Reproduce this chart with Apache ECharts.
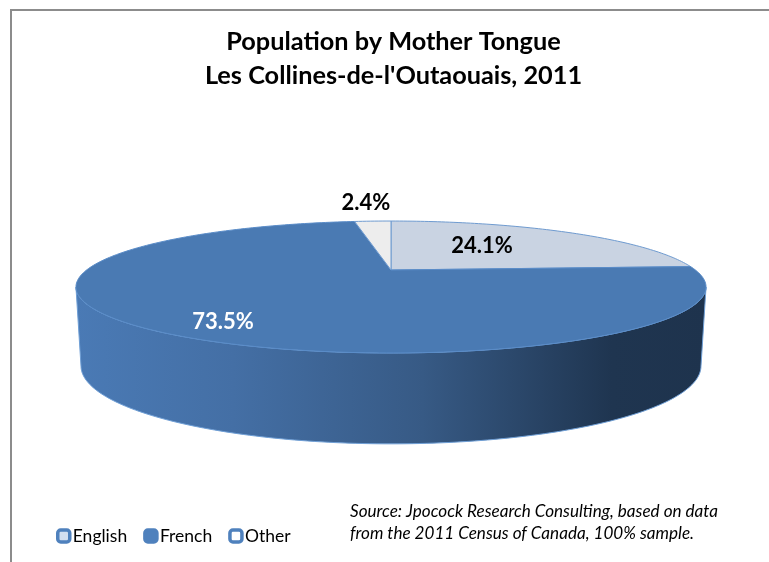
<!DOCTYPE html>
<html>
<head>
<meta charset="utf-8">
<style>
html, body { margin: 0; padding: 0; background: #fff; }
#main { width: 769px; height: 562px; }
</style>
<script src="https://cdn.jsdelivr.net/npm/echarts@6/dist/echarts.min.js"></script>
</head>
<body>
<div id="main"></div>
<script>
// values
var categories = ['English', 'French', 'Other'];
var shares = [24.1, 73.5, 2.4];

var topColors = ['#c9d3e2', '#4a7ab3', '#ededed'];
var labelColors = ['#000', '#fff', '#000'];
var labelAt = [[482, 246], [223, 322], [366, 203]];
var legendFills = ['#d3dff0', '#4f81bd', '#ffffff'];

// flattened disc, drawn in perspective
var cx = 391, apexY = 270;
var p = 0.2576, sx = 304.4, sy = 61.6;
var backScaleX = 0.984, backScaleY = 1.18, rimY = 287, footY = 366;

function project(deg) {
    var t = deg * Math.PI / 180;
    var w = 1 + p * Math.cos(t);
    return [cx + sx * Math.sin(t) / w, apexY - sy * Math.cos(t) / w];
}
function foot(deg) {
    var q = project(deg);
    return [cx + (q[0] - cx) * backScaleX, footY + (q[1] - rimY) * backScaleY];
}
function arc(fn, a, b) {
    var pts = [];
    var n = Math.max(2, Math.ceil(Math.abs(b - a)));
    for (var i = 0; i <= n; i++) {
        pts.push(fn(a + (b - a) * i / n));
    }
    return pts;
}

var myChart = echarts.init(document.getElementById('main'));

var wallGradient = new echarts.graphic.LinearGradient(0, 0, 1, 0, [
    { offset: 0, color: '#4a7ab5' },
    { offset: 0.25, color: '#446fa5' },
    { offset: 0.55, color: '#375a85' },
    { offset: 0.85, color: '#1f3550' },
    { offset: 1, color: '#1e334d' }
]);
var wallFrom = 105, wallTo = 255;

function sliceSeries(idx) {
    var before = 0;
    for (var i = 0; i < idx; i++) {
        before += shares[i];
    }
    var start = before * 3.6, end = (before + shares[idx]) * 3.6;
    return {
        name: categories[idx],
        type: 'custom',
        coordinateSystem: 'none',
        data: [shares[idx]],
        itemStyle: { color: legendFills[idx] },
        renderItem: function (params, api) {
            var children = [];
            var a = Math.max(start, wallFrom), b = Math.min(end, wallTo);
            if (b > a) {
                var wall = arc(project, a, b).concat(arc(foot, b, a));
                children.push({
                    type: 'polygon',
                    shape: { points: wall },
                    style: { fill: wallGradient, stroke: '#6f9fd6', lineWidth: 1 }
                });
            }
            var top = [[cx, apexY]].concat(arc(project, start, end));
            children.push({
                type: 'polygon',
                shape: { points: top },
                style: { fill: topColors[idx], stroke: idx == 1 ? '#5a8cc8' : '#6f9bd0', lineWidth: 1 }
            });
            children.push({
                type: 'text',
                style: {
                    text: api.value(0).toFixed(1) + '%',
                    x: labelAt[idx][0],
                    y: labelAt[idx][1],
                    align: 'center',
                    verticalAlign: 'middle',
                    fill: labelColors[idx],
                    font: 'bold 22px Lato'
                }
            });
            return { type: 'group', children: children };
        }
    };
}

var option = {
    animation: false,
    backgroundColor: '#fff',
    title: [{
        text: "Population by Mother Tongue\nLes Collines-de-l'Outaouais, 2011",
        left: 388.5,
        top: 20,
        textAlign: 'center',
        textStyle: { fontFamily: 'Lato', fontWeight: 'bold', fontSize: 25.3, lineHeight: 34, color: '#000' }
    }, {
        text: 'Source: Jpocock Research Consulting, based on data\nfrom the 2011 Census of Canada, 100% sample.',
        left: 345,
        top: 495,
        textStyle: { fontFamily: 'Lato', fontStyle: 'italic', fontWeight: 'normal', fontSize: 17.1, lineHeight: 22, color: '#000' }
    }],
    legend: {
        left: 56,
        top: 527,
        itemWidth: 12,
        itemHeight: 12,
        itemGap: 16,
        padding: 0,
        icon: 'roundRect',
        textStyle: { fontFamily: 'Lato', fontSize: 17.5, color: '#000', padding: [0, 0, 0, -2] },
        selectedMode: false,
        data: categories.map(function (name, i) {
            return {
                name: name,
                itemStyle: { color: legendFills[i], borderColor: '#4f81bd', borderWidth: 3.5 }
            };
        })
    },
    graphic: [
        { type: 'rect', shape: { x: 10, y: 9, width: 759, height: 2 }, style: { fill: '#8c8c8c' }, silent: true },
        { type: 'rect', shape: { x: 10, y: 9, width: 2, height: 553 }, style: { fill: '#8c8c8c' }, silent: true }
    ],
    series: categories.map(function (name, i) { return sliceSeries(i); })
};
myChart.setOption(option);
window.addEventListener('resize', function () { myChart.resize(); });
</script>
</body>
</html>
